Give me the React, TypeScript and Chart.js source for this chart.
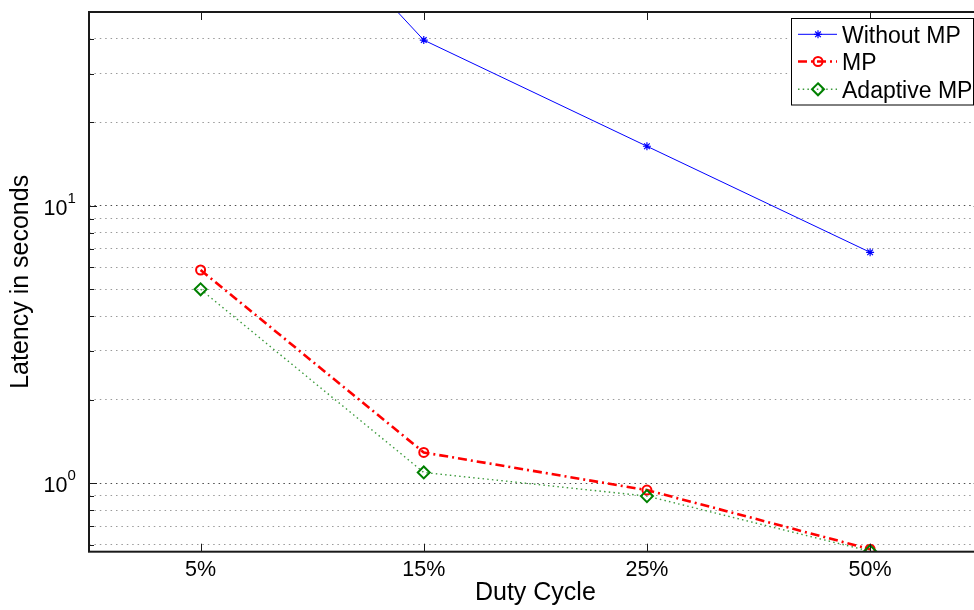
import React, { useEffect, useRef } from 'react';
import { Chart, registerables } from 'chart.js';

Chart.register(...registerables);

// ---- data ----
const CATEGORIES = ['5%', '15%', '25%', '50%'];
const SERIES_LABELS = ['Without MP', 'MP', 'Adaptive MP'];
const WITHOUT_MP = [290, 39.6, 16.4, 6.8];
const MP = [5.87, 1.29, 0.944, 0.578];
const ADAPTIVE_MP = [5.0, 1.093, 0.898, 0.568];
const Y_MIN = 0.566;
const Y_MAX = 50;
const Y_GRID_VALUES = [0.6, 0.7, 0.8, 0.9, 1, 2, 3, 4, 5, 6, 7, 8, 9, 10, 20, 30, 40];
const Y_DECADES = [1, 10];
const X_TITLE = 'Duty Cycle';
const Y_TITLE = 'Latency in seconds';

const FONT = "'Liberation Sans', Arial, Helvetica, sans-serif";

function drawMarker(ctx: CanvasRenderingContext2D, style: string, x: number, y: number, r: number, color: string, lw: number) {
  ctx.save();
  ctx.setLineDash([]);
  ctx.strokeStyle = color;
  ctx.lineWidth = lw;
  ctx.beginPath();
  if (style === 'circle') {
    ctx.arc(x, y, r, 0, Math.PI * 2);
  } else if (style === 'rectRot') {
    ctx.moveTo(x, y - r);
    ctx.lineTo(x + r, y);
    ctx.lineTo(x, y + r);
    ctx.lineTo(x - r, y);
    ctx.closePath();
  } else if (style === 'star') {
    for (let k = 0; k < 4; k++) {
      const a = (k * Math.PI) / 4;
      ctx.moveTo(x - r * Math.cos(a), y - r * Math.sin(a));
      ctx.lineTo(x + r * Math.cos(a), y + r * Math.sin(a));
    }
  }
  ctx.stroke();
  ctx.restore();
}

const framePlugin = {
  id: 'frame',
  afterDatasetsDraw(chart: any) {
    const { ctx, chartArea } = chart;
    const { left, top, right, bottom } = chartArea;
    const xs = chart.scales.x;
    const ys = chart.scales.y;
    ctx.save();
    ctx.setLineDash([]);
    ctx.strokeStyle = '#1a1a1a';
    ctx.lineWidth = 1;
    ctx.beginPath();
    ys.ticks.forEach((t: any) => {
      const py = Math.round(ys.getPixelForValue(t.value)) + 0.5;
      const len = Y_DECADES.includes(t.value) ? 8 : 5;
      ctx.moveTo(left, py);
      ctx.lineTo(left + len, py);
      ctx.moveTo(right, py);
      ctx.lineTo(right - len, py);
    });
    CATEGORIES.forEach((_, i) => {
      const px = Math.round(xs.getPixelForValue(i)) + 0.5;
      ctx.moveTo(px, top);
      ctx.lineTo(px, top + 8);
      ctx.moveTo(px, bottom);
      ctx.lineTo(px, bottom - 8);
    });
    ctx.stroke();
    ctx.lineWidth = 2;
    ctx.strokeRect(left, top, right - left, bottom - top);
    ctx.restore();
  },
};

const yLabelPlugin = {
  id: 'yLabels',
  afterDraw(chart: any) {
    const { ctx } = chart;
    const ys = chart.scales.y;
    ctx.save();
    ctx.fillStyle = '#000';
    Y_DECADES.forEach((v) => {
      const g = ys.getPixelForValue(v);
      const exp = String(Math.round(Math.log10(v)));
      ctx.font = `21.5px ${FONT}`;
      ctx.textAlign = 'right';
      ctx.textBaseline = 'alphabetic';
      ctx.fillText('10', 67.5, g + 9.3);
      ctx.font = `15px ${FONT}`;
      ctx.textAlign = 'left';
      ctx.fillText(exp, 67.6, g - 3);
    });
    ctx.restore();
  },
};

const legendPlugin = {
  id: 'customLegend',
  afterDraw(chart: any) {
    const { ctx } = chart;
    const bx = 791.5;
    const by = 18.5;
    const bw = 182;
    const bh = 86.5;
    const rows = [34.3, 61.5, 89.3];
    ctx.save();
    ctx.fillStyle = '#fff';
    ctx.fillRect(bx, by, bw, bh);
    ctx.strokeStyle = '#000';
    ctx.lineWidth = 1;
    ctx.setLineDash([]);
    ctx.strokeRect(bx, by, bw, bh);
    chart.data.datasets.forEach((ds: any, i: number) => {
      const y = rows[i];
      ctx.save();
      ctx.strokeStyle = ds.borderColor;
      ctx.lineWidth = ds.borderWidth;
      ctx.setLineDash(ds.borderDash || []);
      ctx.beginPath();
      ctx.moveTo(798, y);
      ctx.lineTo(837, y);
      ctx.stroke();
      ctx.restore();
      drawMarker(ctx, ds.pointStyle, 818, y, ds.pointRadius, ds.pointBorderColor, ds.pointBorderWidth);
      ctx.fillStyle = '#000';
      ctx.font = `23px ${FONT}`;
      ctx.textAlign = 'left';
      ctx.textBaseline = 'alphabetic';
      ctx.fillText(ds.label, 842, y + 0.358 * 23);
    });
    ctx.restore();
  },
};

export default function App() {
  const ref = useRef<HTMLCanvasElement>(null);
  useEffect(() => {
    const canvas = ref.current;
    if (!canvas) return;
    const tickFont = { family: FONT, size: 21.5 };
    const titleFont = { family: FONT, size: 25 };
    const chart = new Chart(canvas, {
      type: 'line',
      data: {
        labels: CATEGORIES,
        datasets: [
          {
            label: SERIES_LABELS[0],
            data: WITHOUT_MP,
            borderColor: '#0000ff',
            backgroundColor: '#0000ff',
            borderWidth: 1,
            pointStyle: 'star',
            pointRadius: 4,
            pointBorderWidth: 1.2,
            pointBorderColor: '#0000ff',
            pointBackgroundColor: 'rgba(0,0,0,0)',
            tension: 0,
            order: 2,
          },
          {
            label: SERIES_LABELS[1],
            data: MP,
            borderColor: '#ff0000',
            backgroundColor: '#ff0000',
            borderWidth: 2.6,
            borderDash: [9, 4, 2, 4],
            pointStyle: 'circle',
            pointRadius: 4.5,
            pointBorderWidth: 2,
            pointBorderColor: '#ff0000',
            pointBackgroundColor: 'rgba(0,0,0,0)',
            tension: 0,
            order: 1,
          },
          {
            label: SERIES_LABELS[2],
            data: ADAPTIVE_MP,
            borderColor: '#3c9a3c',
            backgroundColor: '#008000',
            borderWidth: 1.4,
            borderDash: [1.5, 3.2],
            pointStyle: 'rectRot',
            pointRadius: 6,
            pointBorderWidth: 2,
            pointBorderColor: '#008000',
            pointBackgroundColor: 'rgba(0,0,0,0)',
            tension: 0,
            order: 0,
          },
        ],
      },
      options: {
        responsive: false,
        animation: false,
        devicePixelRatio: 1,
        events: [],
        layout: { padding: { left: 0, top: 12, right: 8.3, bottom: 0 } },
        plugins: {
          legend: { display: false },
          tooltip: { enabled: false },
        },
        scales: {
          x: {
            type: 'category',
            offset: true,
            grid: { display: false, drawTicks: false },
            border: { display: false },
            ticks: { font: tickFont, color: '#000', padding: 5, maxRotation: 0, autoSkip: false },
            title: { display: true, text: X_TITLE, font: titleFont, color: '#000', padding: { top: 0, bottom: 2 } },
            afterFit: (s: any) => {
              s.height = 58.3;
            },
          },
          y: {
            type: 'logarithmic',
            min: Y_MIN,
            max: Y_MAX,
            afterBuildTicks: (s: any) => {
              s.ticks = Y_GRID_VALUES.map((v) => ({ value: v, major: Y_DECADES.includes(v) }));
            },
            grid: {
              color: (c: any) => (c.tick && Y_DECADES.includes(c.tick.value) ? '#4d4d4d' : '#9a9a9a'),
              lineWidth: 1,
              drawTicks: false,
            },
            border: { display: false, dash: [1.5, 3.9] },
            ticks: { display: false },
            title: { display: true, text: Y_TITLE, font: titleFont, color: '#000', padding: { top: 6, bottom: 0 } },
            afterFit: (s: any) => {
              s.width = 89;
            },
          },
        },
      },
      plugins: [framePlugin, yLabelPlugin, legendPlugin],
    } as any);
    return () => chart.destroy();
  }, []);

  return (
    <div
      style={{
        position: 'absolute',
        left: 0,
        top: 0,
        width: 974,
        height: 610,
        overflow: 'hidden',
        background: '#fff',
      }}
    >
      <canvas ref={ref} width={990} height={610} style={{ display: 'block' }} />
    </div>
  );
}
